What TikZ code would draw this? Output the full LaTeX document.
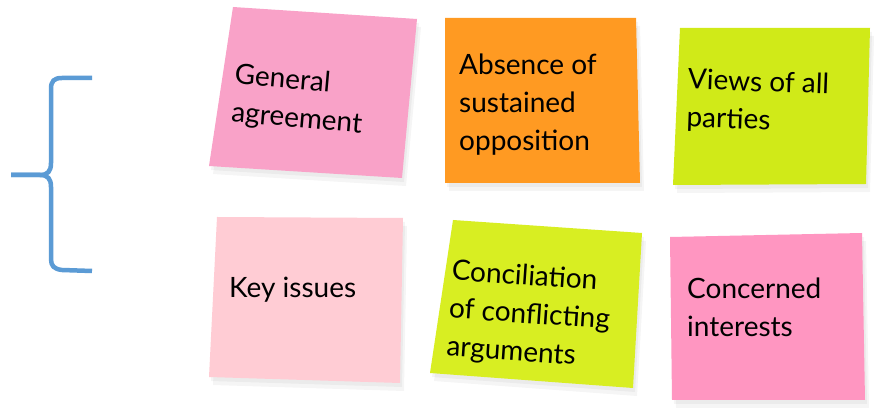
\documentclass[tikz,border=0pt]{standalone}
\usepackage{fontspec}
\setmainfont{Lato}
\definecolor{bracec}{HTML}{5B9BD5}
\definecolor{pinkA}{HTML}{F9A2C8}
\definecolor{orangeB}{HTML}{FF9A22}
\definecolor{limeC}{HTML}{D0EA18}
\definecolor{pinkD}{HTML}{FFCCD4}
\definecolor{limeE}{HTML}{D8EE22}
\definecolor{pinkF}{HTML}{FF96C1}
\begin{document}
\begin{tikzpicture}[x=1pt,y=-1pt]
\tikzset{
  shadowA/.style={fill=black,opacity=0.04},
  shadowB/.style={fill=black,opacity=0.04},
  txt/.style={font=\fontsize{28}{38}\selectfont, align=left, anchor=west, inner sep=0pt, text=black},
  bracestyle/.style={draw=bracec, line width=4.5pt, line cap=butt, line join=round}
}
\useasboundingbox (0,0) rectangle (884,411);
\fill[white] (0,0) rectangle (884,411);
% brace
\draw[bracestyle] (92,78) -- (62,78) .. controls (54,78) and (51,81) .. (51,89) -- (51,163)
  .. controls (51,171) and (48,175) .. (40,175) -- (11,175);
\draw[bracestyle] (11,175) -- (40,175) .. controls (48,175) and (51,179) .. (51,187) -- (51,259)
  .. controls (51,266) and (54,269) .. (62,270) -- (92,271);
% shadows
\foreach \dx/\dy/\s in {2/4/shadowA, 4/8/shadowB}{
  \fill[\s] (233+\dx,7+\dy) -- (417+\dx,19+\dy) -- (402+\dx,178+\dy) -- (209+\dx,166+\dy) -- cycle;
  \fill[\s] (445+\dx,18+\dy) -- (636+\dx,18+\dy) -- (640+\dx,183+\dy) -- (445+\dx,183+\dy) -- cycle;
  \fill[\s] (680+\dx,28+\dy) -- (870+\dx,28+\dy) -- (866+\dx,184+\dy) -- (673+\dx,185+\dy) -- cycle;
  \fill[\s] (217+\dx,217+\dy) -- (403+\dx,218+\dy) -- (400+\dx,383+\dy) -- (209+\dx,377+\dy) -- cycle;
  \fill[\s] (453+\dx,220+\dy) -- (642+\dx,233+\dy) -- (633+\dx,388+\dy) -- (430+\dx,373+\dy) -- cycle;
  \fill[\s] (670+\dx,237+\dy) -- (862+\dx,233+\dy) -- (865+\dx,400+\dy) -- (672+\dx,400+\dy) -- cycle;
}
% notes
\fill[pinkA] (233,7) -- (417,19) -- (402,178) -- (209,166) -- cycle;
\fill[orangeB] (445,18) -- (636,18) -- (640,183) -- (445,183) -- cycle;
\fill[limeC] (680,28) -- (870,28) -- (866,184) -- (673,185) -- cycle;
\fill[pinkD] (217,217) -- (403,218) -- (400,383) -- (209,377) -- cycle;
\fill[limeE] (453,220) -- (642,233) -- (633,388) -- (430,373) -- cycle;
\fill[pinkF] (670,237) -- (862,233) -- (865,400) -- (672,400) -- cycle;
% texts
\node[txt, rotate=-5] (t1) at (233,95) {General\\agreement};
\node[txt] (t2) at (459,105) {Absence of\\sustained\\opposition};
\node[txt, rotate=-2] (t3) at (687,100) {Views of all\\parties};
\node[txt] (t4) at (229,290) {Key issues};
\node[txt, rotate=-4] (t5) at (449,310) {Conciliation\\of conflicting\\arguments};
\node[txt] (t6) at (687,307) {Concerned\\interests};
\end{tikzpicture}
\end{document}
